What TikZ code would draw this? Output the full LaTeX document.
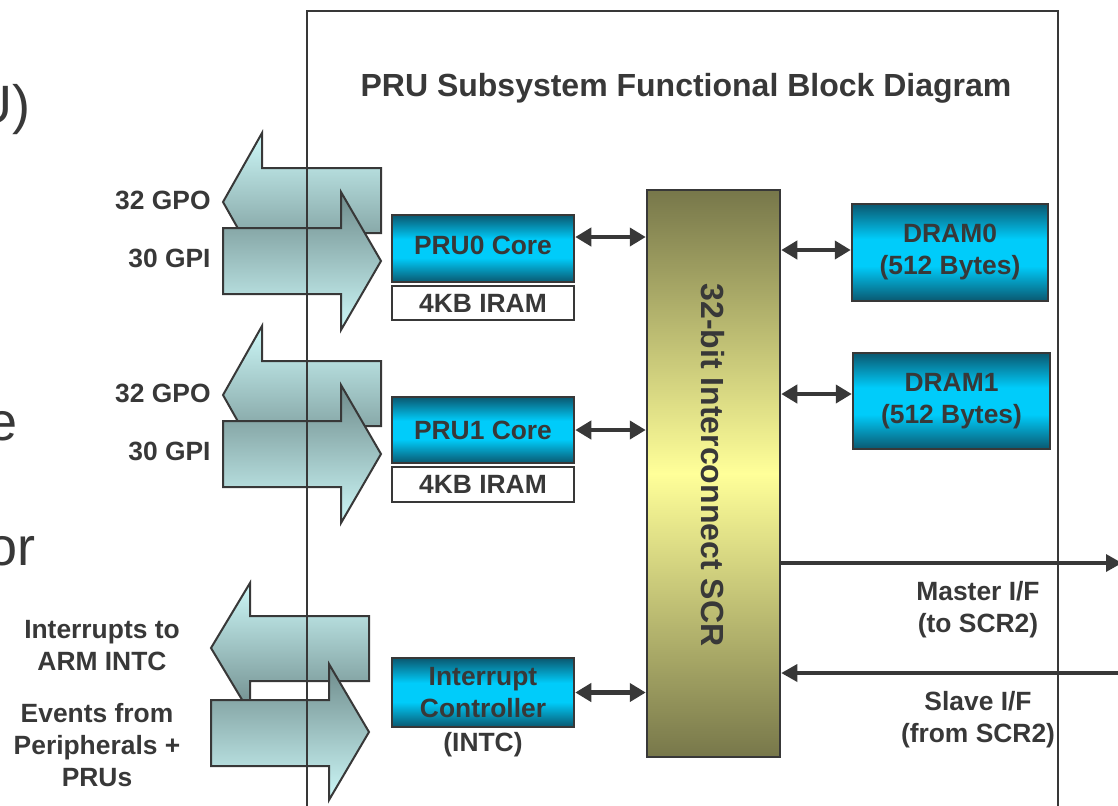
\documentclass[tikz,border=0pt]{standalone}
\usepackage{fontspec}
\setmainfont{Liberation Sans}
\usetikzlibrary{arrows.meta,positioning}

\definecolor{ink}{HTML}{383838}
\definecolor{cydk}{HTML}{0A5870}
\definecolor{cybr}{HTML}{00CCFA}
\definecolor{oldk}{HTML}{77774A}
\definecolor{olbr}{HTML}{FFFF99}
\definecolor{arlt}{HTML}{CDF8F8}
\definecolor{ardk}{HTML}{6E8B8B}

\pgfdeclareverticalshading{cyn}{100bp}{color(0bp)=(cydk); color(25bp)=(cydk); color(43bp)=(cybr); color(57bp)=(cybr); color(75bp)=(cydk); color(100bp)=(cydk)}

\tikzset{
  lbl/.style={text=ink, font=\bfseries\fontsize{13.2}{16}\selectfont, align=center, inner sep=0pt},
  big/.style={lbl, font=\bfseries\fontsize{16}{19}\selectfont},
  frag/.style={text=ink, font=\fontsize{27}{32}\selectfont, inner sep=0pt},
  cbox/.style={lbl, draw=ink, line width=1.25pt, shading=cyn, minimum width=91pt},
  mbox/.style={lbl, draw=ink, line width=1.25pt, fill=white, minimum width=91pt},
  bus/.style={draw=ink, line width=1.25pt, top color=oldk, bottom color=oldk, middle color=olbr, minimum width=66.5pt, minimum height=283.5pt, inner sep=0pt},
  fat/.style={draw=ink, line width=1pt, line join=miter},
  dbl/.style={draw=ink, line width=2.2pt, {Triangle[length=8pt,width=9pt]}-{Triangle[length=8pt,width=9pt]}},
  one/.style={draw=ink, line width=1.7pt, -{Triangle[length=8pt,width=8.5pt]}},
  frm/.style={draw=ink, line width=0.75pt}
}

\begin{document}
\begin{tikzpicture}[x=0.5pt, y=-0.5pt]
    \useasboundingbox (0,0) rectangle (1118,805);

    \node[frag, anchor=base east] (f0) at (31,123) {U)};
    \node[frag, anchor=base east] (f1) at (17.5,440) {e};
    \node[frag, anchor=base east] (f2) at (36,565) {or};

    \path[fat, top color=arlt, bottom color=ardk] (223,202) -- (262,133) -- (262,168) -- (381,168) -- (381,233) -- (262,233) -- (262,271) -- cycle;
    \path[fat, top color=ardk, bottom color=arlt] (223,228) -- (341,228) -- (341,192) -- (381,261) -- (341,330) -- (341,294) -- (223,294) -- cycle;
    \path[fat, top color=arlt, bottom color=ardk] (223,395) -- (262,326) -- (262,361) -- (381,361) -- (381,426) -- (262,426) -- (262,464) -- cycle;
    \path[fat, top color=ardk, bottom color=arlt] (223,421) -- (341,421) -- (341,385) -- (381,454) -- (341,523) -- (341,487) -- (223,487) -- cycle;
    \path[fat, top color=arlt, bottom color=ardk] (211,648) -- (250,583) -- (250,616) -- (369,616) -- (369,681) -- (250,681) -- (250,713) -- cycle;
    \path[fat, top color=ardk, bottom color=arlt] (211,700) -- (329,700) -- (329,664) -- (369,732) -- (329,800) -- (329,766) -- (211,766) -- cycle;

    \draw[frm] (307,806) -- (307,11) -- (1058,11) -- (1058,806);

    \node[big] (ttl) at (686,88) {PRU Subsystem Functional Block Diagram};

    \node[lbl, anchor=east] (o0) at (211,200) {32 GPO};
    \node[lbl, anchor=east] (i0) at (211,258) {30 GPI};
    \node[lbl, anchor=east] (o1) at (211,393) {32 GPO};
    \node[lbl, anchor=east] (i1) at (211,451) {30 GPI};
    \node[lbl] (irq) at (102,646) {Interrupts to\\ARM INTC};
    \node[lbl] (evt) at (97,745) {Events from\\Peripherals +\\PRUs};

    \node[cbox, minimum height=33.5pt, text depth=3pt] (p0) at (483,248.5) {PRU0 Core};
    \node[mbox, minimum height=17pt] (m0) at (483,303) {4KB IRAM};
    \node[cbox, minimum height=33pt] (p1) at (483,430) {PRU1 Core};
    \node[mbox, minimum height=17.5pt] (m1) at (483,484.5) {4KB IRAM};
    \node[cbox, minimum height=34.5pt] (ic) at (483,692.5) {Interrupt\\Controller};
    \node[lbl] (icn) at (483,745) {(INTC)};

    \node[bus] (scr) at (713.5,473.5) {};
    \node[big, rotate=-90] (scrt) at (713,465) {32-bit Interconnect SCR};

    \node[cbox, minimum width=98pt, minimum height=48.5pt] (d0) at (950,252.5) {DRAM0\\(512 Bytes)};
    \node[cbox, minimum width=98.5pt, minimum height=48pt] (d1) at (951.5,401) {DRAM1\\(512 Bytes)};

    \node[lbl] (mst) at (978,610) {Master I/F\\(to SCR2)};
    \node[lbl] (slv) at (978,720) {Slave I/F\\(from SCR2)};

    \coordinate (mo) at (1122,563);
    \coordinate (si) at (1118,673);

    \draw[dbl] ([yshift=5.75pt]p0.east) -- ([yshift=5.75pt]p0.east -| scr.west);
    \draw[dbl] (p1.east) -- (p1.east -| scr.west);
    \draw[dbl] (ic.east) -- (ic.east -| scr.west);
    \draw[dbl] ([yshift=1.25pt]d0.west -| scr.east) -- ([yshift=1.25pt]d0.west);
    \draw[dbl] ([yshift=3.5pt]d1.west -| scr.east) -- ([yshift=3.5pt]d1.west);
    \draw[one] (mo -| scr.east) -- (mo);
    \draw[one] (si) -- (si -| scr.east);
  \end{tikzpicture}
\end{document}
